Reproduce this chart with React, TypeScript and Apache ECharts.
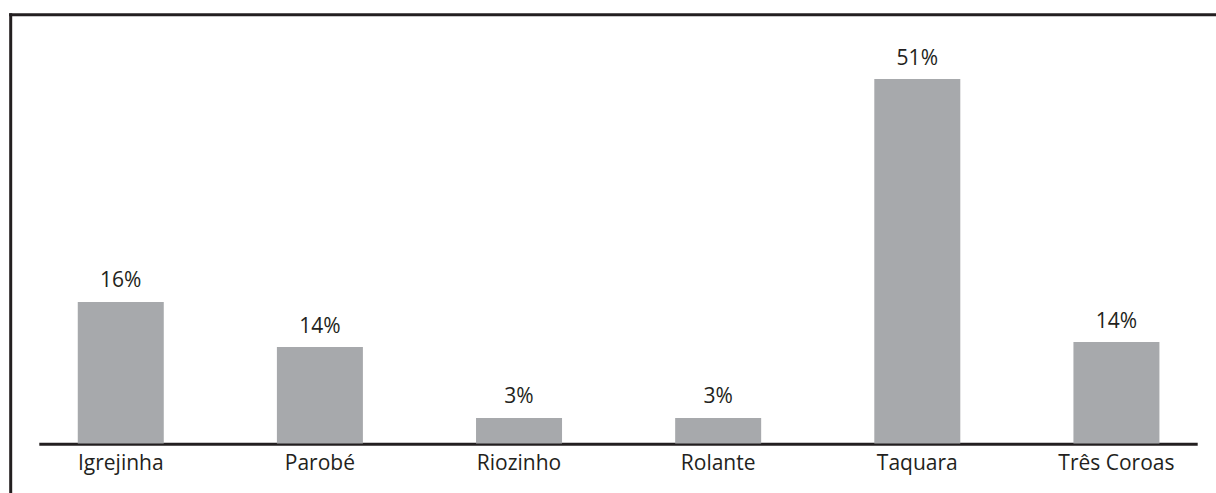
import React, { useEffect, useRef } from "react";
import * as echarts from "echarts";

const categories = ["Igrejinha", "Parobé", "Riozinho", "Rolante", "Taquara", "Três Coroas"];
// bar heights (percent scale)
const values = [19.8, 13.5, 3.57, 3.57, 51, 14.2];
// printed labels above the bars
const labelTexts = ["16%", "14%", "3%", "3%", "51%", "14%"];

const INK = "#231f20";
const BAR = "#a7a9ac";
const FONT = "'Open Sans', sans-serif";

export default function App() {
  const ref = useRef<HTMLDivElement>(null);
  useEffect(() => {
    if (!ref.current) return;
    const chart = echarts.init(ref.current, null, { renderer: "svg" });
    chart.setOption({
      animation: false,
      backgroundColor: "#ffffff",
      grid: { left: 21.2, right: -2.8, top: 79, bottom: 49.5, containLabel: false },
      xAxis: {
        type: "category",
        data: categories,
        boundaryGap: true,
        axisLine: { show: false },
        axisTick: { show: false },
        axisLabel: {
          color: INK,
          fontFamily: FONT,
          fontSize: 21,
          margin: 8,
          interval: 0,
        },
      },
      yAxis: {
        type: "value",
        min: 0,
        max: 51,
        show: false,
        splitLine: { show: false },
      },
      series: [
        {
          type: "bar",
          data: values,
          barWidth: 86,
          itemStyle: { color: BAR },
          label: {
            show: true,
            position: "top",
            distance: 12,
            color: INK,
            fontFamily: FONT,
            fontSize: 21,
            formatter: (p: any) => labelTexts[p.dataIndex],
          },
        },
      ],
      graphic: [
        {
          type: "line",
          shape: { x1: 10.7, y1: 13.3, x2: 10.7, y2: 493 },
          style: { stroke: INK, lineWidth: 3 },
        },
        {
          type: "line",
          shape: { x1: 9.2, y1: 14.8, x2: 1216, y2: 14.8 },
          style: { stroke: INK, lineWidth: 3 },
        },
        {
          type: "line",
          shape: { x1: 39.3, y1: 444.2, x2: 1197.7, y2: 444.2 },
          style: { stroke: INK, lineWidth: 3 },
        },
      ],
    });
    return () => chart.dispose();
  }, []);
  return (
    <div
      ref={ref}
      style={{ position: "fixed", left: 0, top: 0, width: 1216, height: 493 }}
    />
  );
}
